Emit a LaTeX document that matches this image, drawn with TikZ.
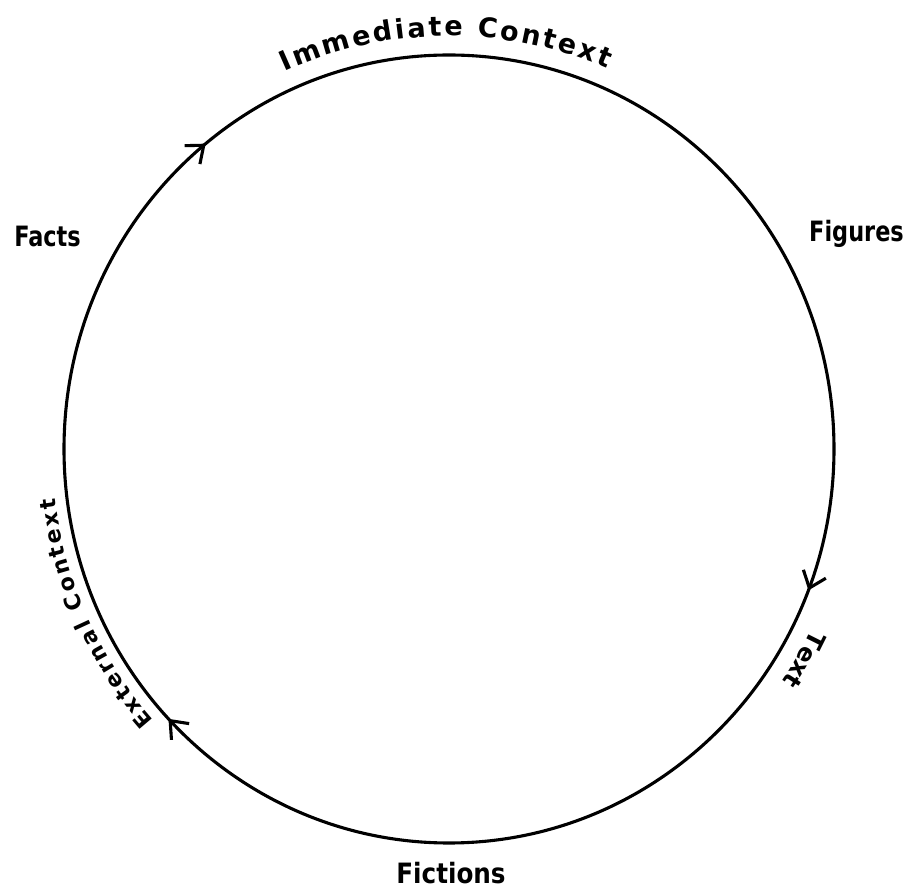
\documentclass[tikz,border=0pt]{standalone}
\usepackage{fontspec}
\newfontfamily\handfont{DejaVu Sans}
\usetikzlibrary{decorations.text,decorations.markings,arrows.meta,calc}
\begin{document}
\begin{tikzpicture}[x=1pt,y=1pt]
\tikzset{
  ring/.style={line width=3.1pt},
  lbl/.style={font=\handfont\bfseries\fontsize{28}{30}\selectfont,inner sep=0pt,xscale=0.8,transform shape},
  chev/.tip={Straight Barb[length=15pt,width=24pt,line width=3.1pt]}
}
\useasboundingbox (0,0) rectangle (908,889);
\coordinate (C) at (449,440);
% circle, drawn clockwise from the top
\draw[ring,postaction={decorate},
  decoration={markings,
    mark=at position 0.309 with {\arrow{chev}},
    mark=at position 0.629 with {\arrow{chev}},
    mark=at position 0.892 with {\arrow{chev}}}]
  ($(C)+(90:385 and 394)$) arc[start angle=90,end angle=-270,x radius=385,y radius=394];
% curved labels
\path[decorate,decoration={text along path,text align=fit to path,
  text={|\handfont\bfseries\fontsize{27}{29}\selectfont|Immediate Context}}]
  ($(C)+(114:404 and 413)$) arc[start angle=114,end angle=67,x radius=404,y radius=413];
\path[decorate,decoration={text along path,
  text={|\handfont\bfseries\fontsize{24}{26}\selectfont|Text}}]
  ($(C)+(-26:403 and 412)$) arc[start angle=-26,end angle=-42,x radius=403,y radius=412];
\path[decorate,decoration={text along path,text align=fit to path,
  text={|\handfont\bfseries\fontsize{22}{24}\selectfont|External Context}}]
  ($(C)+(222:397 and 406)$) arc[start angle=222,end angle=187,x radius=397,y radius=406];
% straight labels
\node[lbl,anchor=base] (facts) at (47.5,642) {Facts};
\node[lbl,anchor=base] (figures) at (856.5,647) {Figures};
\node[lbl,anchor=base,xscale=1.1] (fictions) at (451,5) {Fictions};
\end{tikzpicture}
\end{document}
